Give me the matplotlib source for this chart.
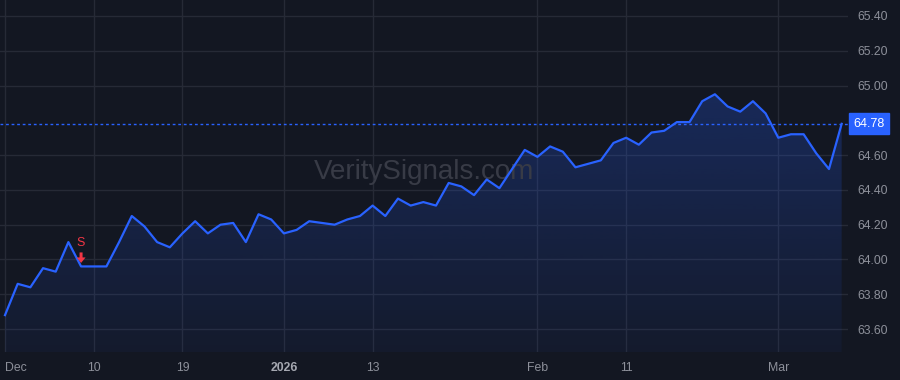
import matplotlib
matplotlib.use("Agg")
import matplotlib.pyplot as plt
import numpy as np
from matplotlib.patches import Polygon
from matplotlib.transforms import Affine2D

plt.rcParams["font.family"] = ["Liberation Sans", "DejaVu Sans"]

# daily closes, one per trading day, Dec 1 -> Mar 9
closes = [
    63.68, 63.86, 63.84, 63.95, 63.93, 64.10, 63.96, 63.96, 63.96, 64.10,
    64.25, 64.19, 64.10, 64.07, 64.15, 64.22, 64.15, 64.20, 64.21, 64.10,
    64.26, 64.23, 64.15, 64.17, 64.22, 64.21, 64.20, 64.23, 64.25, 64.31,
    64.25, 64.35, 64.31, 64.33, 64.31, 64.44, 64.42, 64.37, 64.46, 64.41,
    64.52, 64.63, 64.59, 64.65, 64.62, 64.53, 64.55, 64.57, 64.67, 64.70,
    64.66, 64.73, 64.74, 64.79, 64.79, 64.91, 64.95, 64.88, 64.85, 64.91,
    64.84, 64.70, 64.72, 64.72, 64.61, 64.52, 64.78,
]
last_price = 64.78
signal_idx = 6
signal_label = "S"

xtick_pos = [0, 7, 14, 22, 29, 42, 49, 61]
xtick_labels = ["Dec", "10", "19", "2026", "13", "Feb", "11", "Mar"]
ytick_vals = [63.60, 63.80, 64.00, 64.20, 64.40, 64.60, 65.00, 65.20, 65.40]

BG = "#131722"
GRID = "#262a36"
LINE = "#2962ff"
TXT = "#8d909a"
RED = "#f23645"

fig = plt.figure(figsize=(9, 3.8), dpi=100, facecolor=BG)
ax = fig.add_axes([0, 28 / 380, 848 / 900, 352 / 380], facecolor=BG)

x = np.arange(len(closes))
y = np.array(closes)
ax.set_xlim(-0.395, 66.5)
ax.set_ylim(63.468, 65.492)

# gradient area under the line
poly = ax.fill_between(x, y, 63.0, color="none", lw=0)
grad = np.linspace(0.0, 1.0, 256).reshape(-1, 1)
cols = np.zeros((256, 1, 4))
cols[..., 0] = 41 / 255
cols[..., 1] = 98 / 255
cols[..., 2] = 1.0
cols[..., 3] = 0.05 + 0.20 * grad
im = ax.imshow(cols, origin="lower", aspect="auto",
               extent=[x[0], x[-1], 63.468, y.max()], zorder=1)
im.set_clip_path(poly.get_paths()[0], transform=ax.transData)

ax.plot(x, y, color=LINE, lw=1.6, zorder=3)
ax.axhline(last_price, color=LINE, lw=1, ls=(0, (2, 2)), zorder=2)

# grid + axes
ax.set_xticks(xtick_pos)
ax.set_yticks(ytick_vals)
ax.grid(True, color=GRID, lw=1)
ax.set_axisbelow(True)
for s in ax.spines.values():
    s.set_visible(False)
ax.yaxis.tick_right()
ax.tick_params(axis="both", length=0, colors=TXT, labelsize=8.8)
ax.tick_params(axis="y", pad=7)
ax.tick_params(axis="x", pad=7)
ax.set_yticklabels([f"{v:.2f}" for v in ytick_vals])
ax.set_xticklabels(xtick_labels)
for lab in ax.get_xticklabels():
    if lab.get_text() == "2026":
        lab.set_fontweight("bold")
        lab.set_color("#a5a8b1")
    if lab.get_text() == "Dec":
        lab.set_horizontalalignment("left")

# last price label box on the right scale
ax.annotate(f"{last_price:.2f}", xy=(1.0, last_price),
            xycoords=("axes fraction", "data"), xytext=(4, 0),
            textcoords="offset points", ha="left", va="center",
            color="white", fontsize=9, zorder=5,
            bbox=dict(boxstyle="square,pad=0.35", fc=LINE, ec=LINE))

# watermark
ax.text(0.5, 0.51, "VeritySignals.com", transform=ax.transAxes,
        ha="center", va="center", fontsize=20, color="#383b46", zorder=2)

# sell signal marker (arrow drawn in pixel offsets above the point)
sv = closes[signal_idx]
px, py = ax.transData.transform((signal_idx, sv))
arrow = [(-1.5, 14), (1.5, 14), (1.5, 9), (4.5, 9), (0, 3.5),
         (-4.5, 9), (-1.5, 9)]
ax.add_patch(Polygon(arrow, closed=True, fc=RED, ec="none", zorder=6,
                     transform=Affine2D().translate(px, py)))
ax.annotate(signal_label, xy=(signal_idx, sv), xytext=(0, 17),
            textcoords="offset points", ha="center", va="center",
            color=RED, fontsize=9, zorder=6)

fig.savefig("out.png", dpi=100, facecolor=BG)
